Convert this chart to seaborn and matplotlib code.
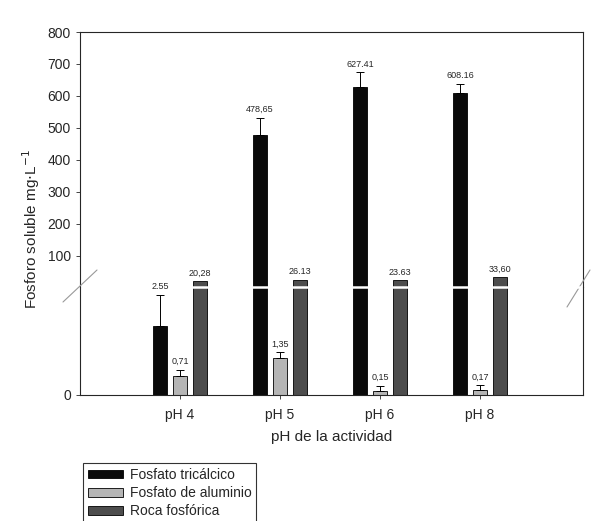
import numpy as np
import pandas as pd
import matplotlib
matplotlib.use("Agg")
import matplotlib.pyplot as plt
from matplotlib.lines import Line2D
import seaborn as sns

# data
ph_labels = ["pH 4", "pH 5", "pH 6", "pH 8"]
fuentes = ["Fosfato tricálcico", "Fosfato de aluminio", "Roca fosfórica"]

tricalcico = [2.55, 478.65, 627.41, 608.16]
aluminio = [0.71, 1.35, 0.15, 0.17]
roca = [20.28, 26.13, 23.63, 33.60]

err_tricalcico = [1.15, 54, 47, 30]
err_aluminio = [0.23, 0.22, 0.20, 0.20]
err_roca = [0, 0, 0, 0]

lab_tricalcico = ["2.55", "478,65", "627.41", "608.16"]
lab_aluminio = ["0,71", "1,35", "0,15", "0,17"]
lab_roca = ["20,28", "26.13", "23.63", "33,60"]

colores = {"Fosfato tricálcico": "#0a0a0a",
           "Fosfato de aluminio": "#b5b5b5",
           "Roca fosfórica": "#4d4d4d"}

df = pd.DataFrame({
    "ph": ph_labels * 3,
    "fuente": np.repeat(fuentes, 4),
    "valor": tricalcico + aluminio + roca,
})
errores = [err_tricalcico, err_aluminio, err_roca]
etiquetas = [lab_tricalcico, lab_aluminio, lab_roca]
valores = [tricalcico, aluminio, roca]

sns.set_style("ticks")
plt.rcParams["font.family"] = ["Liberation Sans", "DejaVu Sans"]

fig = plt.figure(figsize=(5.92, 5.21), dpi=100)
left, width = 80 / 592, 503 / 592
y_zero, y_break, y_top = 1 - 395 / 521, 1 - 286.7 / 521, 1 - 32 / 521
ax_lo = fig.add_axes([left, y_zero, width, y_break - y_zero])
ax_hi = fig.add_axes([left, y_break, width, y_top - y_break])
ax_hi.patch.set_alpha(0)
ax_lo.set_zorder(2)
ax_lo.patch.set_alpha(0)

for ax, lim in [(ax_lo, (0, 4)), (ax_hi, (4, 800))]:
    sns.barplot(data=df, x="ph", y="valor", hue="fuente", order=ph_labels,
                hue_order=fuentes, palette=colores, width=0.6, gap=0.3,
                edgecolor="black", linewidth=0.6, errorbar=None, ax=ax,
                legend=(ax is ax_lo), zorder=2)
    ax.set_ylim(*lim)
    ax.set_xlim(-1, 4.03)
    ax.set_xlabel("")
    ax.set_ylabel("")
    ax.tick_params(axis="both", labelsize=10, length=3, width=0.6, direction="out")
    for s in ax.spines.values():
        s.set_linewidth(0.8)
    # error bars (upper side only) and value labels
    barras = list(ax.containers)
    for k, cont in enumerate(barras):
        xs = np.array([p.get_x() + p.get_width() / 2 for p in cont.patches])
        vals = np.array(valores[k])
        errs = np.array(errores[k])
        show = (vals + errs > lim[0]) & (vals <= lim[1])
        if (errs > 0).any() and show.any():
            ax.errorbar(xs[show], vals[show],
                        yerr=[np.zeros(show.sum()), errs[show]],
                        fmt="none", ecolor="black", elinewidth=0.7,
                        capsize=3, capthick=0.7, zorder=3)
        for x, v, e, t, sh in zip(xs, vals, errs, etiquetas[k], show):
            if sh:
                ax.annotate(t, (x, v + e), xytext=(0, 2.5), textcoords="offset points",
                            ha="center", va="bottom", fontsize=6.5,
                            annotation_clip=False, zorder=5)

ax_hi.spines["bottom"].set_visible(False)
ax_lo.spines["top"].set_visible(False)
ax_hi.set_xticks([])
ax_hi.set_yticks([100, 200, 300, 400, 500, 600, 700, 800])
ax_lo.set_yticks([0])
ax_lo.set_xticks(range(len(ph_labels)))
ax_lo.set_xticklabels(ph_labels, fontsize=10)
ax_lo.tick_params(axis="x", pad=6)

# white gap across the break (below the value labels)
ax_lo.axhline(4, xmin=0.003, xmax=0.997, color="white", lw=1.8, zorder=2.5, clip_on=False)

ax_lo.set_xlabel("pH de la actividad", fontsize=11, labelpad=6)
fig.text(0.052, 1 - 229 / 521, r"Fosforo soluble mg$\cdot$L$^{-1}$",
         rotation=90, ha="center", va="center", fontsize=11)

# break marks
for x0, y0, x1, y1 in [(63, 302, 97, 270), (567, 307, 590, 270)]:
    fig.add_artist(Line2D([x0 / 592, x1 / 592], [1 - y0 / 521, 1 - y1 / 521],
                          color="#999999", lw=0.8))

handles, labels = ax_lo.get_legend_handles_labels()
ax_lo.get_legend().remove()
leg = fig.legend(handles, labels, loc="upper left",
                 bbox_to_anchor=(83 / 592, 1 - 463 / 521), frameon=True,
                 fancybox=False, edgecolor="black", fontsize=10,
                 handlelength=2.5, handleheight=0.6, labelspacing=0.3,
                 borderpad=0.35, handletextpad=0.5, borderaxespad=0)
leg.get_frame().set_linewidth(0.8)

fig.savefig("out.png", dpi=100)
